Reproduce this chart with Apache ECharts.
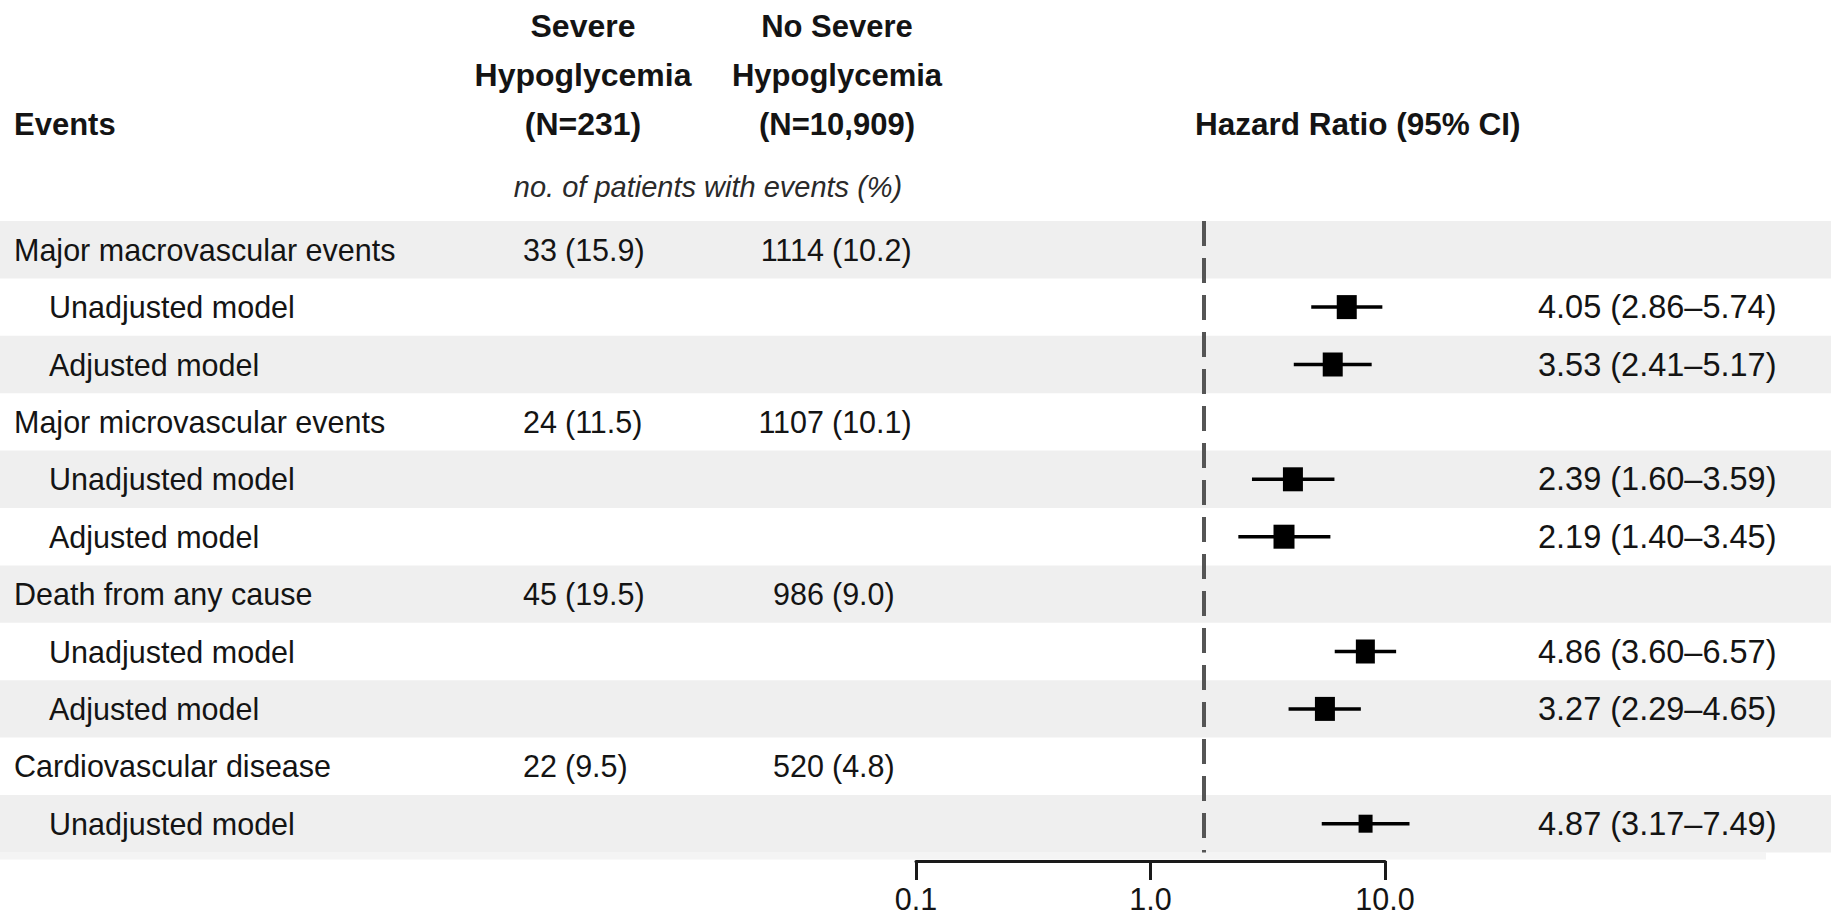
<!DOCTYPE html>
<html>
<head>
<meta charset="utf-8">
<script src="https://cdn.jsdelivr.net/npm/echarts@6/dist/echarts.min.js"></script>
<style>
html,body{margin:0;padding:0;background:#ffffff;}
#chart{width:1831px;height:916px;}
</style>
</head>
<body>
<div id="chart"></div>
<script>
// ---------------- DATA ----------------
const rowLabels = [
  'Major macrovascular events', 'Unadjusted model', 'Adjusted model',
  'Major microvascular events', 'Unadjusted model', 'Adjusted model',
  'Death from any cause', 'Unadjusted model', 'Adjusted model',
  'Cardiovascular disease', 'Unadjusted model'
];
const rowIsSubgroup = [false, true, true, false, true, true, false, true, true, false, true];
const severeCounts     = [33, null, null, 24, null, null, 45, null, null, 22, null];
const severePercents   = [15.9, null, null, 11.5, null, null, 19.5, null, null, 9.5, null];
const noSevereCounts   = [1114, null, null, 1107, null, null, 986, null, null, 520, null];
const noSeverePercents = [10.2, null, null, 10.1, null, null, 9.0, null, null, 4.8, null];
const hazardRatios = [null, 4.05, 3.53, null, 2.39, 2.19, null, 4.86, 3.27, null, 4.87];
const ciLower      = [null, 2.86, 2.41, null, 1.60, 1.40, null, 3.60, 2.29, null, 3.17];
const ciUpper      = [null, 5.74, 5.17, null, 3.59, 3.45, null, 6.57, 4.65, null, 7.49];
const axisTickValues = [0.1, 1, 10];
const referenceHR = 1;
const headerEvents = 'Events';
const headerSevere = ['Severe', 'Hypoglycemia', '(N=231)'];
const headerNoSevere = ['No Severe', 'Hypoglycemia', '(N=10,909)'];
const headerHR = 'Hazard Ratio (95% CI)';
const subHeader = 'no. of patients with events (%)';

// ---------------- STYLE / LAYOUT ----------------
const W = 1831;
const FONT = 'Liberation Sans';
const C = { text: '#141414', band: '#efefef', strip: '#f4f4f4', ref: '#555555', mark: '#000000' };
const L = {
  tableTop: 221, rowH: 57.4,
  labelX: 14, subLabelX: 49,
  col2Paren: 565, col3Paren: 832, gap: 8,
  hrTextX: 1538,
  col2Center: 583, col3Center: 837, hrHeaderX: 1195,
  headerLineY: [26, 75, 124], subHeaderY: 187, subHeaderX: 708,
  plotLeft: 969, plotWidth: 470,      // marker scale
  axisLeft: 916, axisWidth: 469        // printed axis
};
const markerSizes = [null, [20, 24], [20, 24], null, [20, 24], [21, 24], null, [19, 24], [20, 24], null, [14, 18]];
const bodyFont = { fontFamily: FONT, fontSize: 30.5, fill: C.text };

const nRows = rowLabels.length;
const tableHeight = L.rowH * nRows;
const tableBottom = 916 - (L.tableTop + tableHeight);

function txt(x, y, text, align, extra) {
  return { type: 'text', style: Object.assign({ x: x, y: y, text: text, align: align, verticalAlign: 'middle' }, bodyFont, extra || {}) };
}

function renderTableRow(params, api) {
  const i = params.dataIndex;
  const y = api.coord([0, i])[1];
  const h = api.size([0, 1])[1];
  const ch = [];
  if (i % 2 === 0) {
    ch.push({ type: 'rect', shape: { x: 0, y: y - h / 2, width: W, height: h }, style: { fill: C.band } });
  }
  ch.push(txt(rowIsSubgroup[i] ? L.subLabelX : L.labelX, y, rowLabels[i], 'left'));
  if (severeCounts[i] != null) {
    ch.push(txt(L.col2Paren - L.gap, y, String(severeCounts[i]), 'right'));
    ch.push(txt(L.col2Paren, y, '(' + severePercents[i].toFixed(1) + ')', 'left'));
  }
  if (noSevereCounts[i] != null) {
    ch.push(txt(L.col3Paren - L.gap, y, String(noSevereCounts[i]), 'right'));
    ch.push(txt(L.col3Paren, y, '(' + noSeverePercents[i].toFixed(1) + ')', 'left'));
  }
  if (hazardRatios[i] != null) {
    const s = hazardRatios[i].toFixed(2) + ' (' + ciLower[i].toFixed(2) + '\u2013' + ciUpper[i].toFixed(2) + ')';
    ch.push(txt(L.hrTextX, y, s, 'left', { fontSize: 32.5 }));
  }
  return { type: 'group', children: ch };
}

function renderWhisker(params, api) {
  const row = api.value(0);
  const pLo = api.coord([api.value(2), row]);
  const pHi = api.coord([api.value(3), row]);
  return { type: 'line', shape: { x1: pLo[0], y1: pLo[1], x2: pHi[0], y2: pHi[1] }, style: { stroke: C.mark, lineWidth: 3.5 } };
}

const forestRows = [];
const squareData = [];
for (let i = 0; i < nRows; i++) {
  if (hazardRatios[i] == null) continue;
  forestRows.push([i, hazardRatios[i], ciLower[i], ciUpper[i]]);
  squareData.push({ value: [hazardRatios[i], i], symbolSize: markerSizes[i] });
}

const headerGraphics = [];
function hdr(x, y, text, align, extra) {
  headerGraphics.push({ type: 'text', x: x, y: y, silent: true,
    style: Object.assign({ text: text, align: align, verticalAlign: 'middle', fontFamily: FONT, fontSize: 31, fontWeight: 'bold', fill: C.text }, extra || {}) });
}
hdr(L.labelX, L.headerLineY[2], headerEvents, 'left');
headerSevere.forEach((t, k) => hdr(L.col2Center, L.headerLineY[k], t, 'center', { fontSize: 32 }));
headerNoSevere.forEach((t, k) => hdr(L.col3Center, L.headerLineY[k], t, 'center', { fontSize: 31 }));
hdr(L.hrHeaderX, L.headerLineY[2], headerHR, 'left', { fontSize: 31.5 });
hdr(L.subHeaderX, L.subHeaderY, subHeader, 'center', { fontWeight: 'normal', fontStyle: 'italic', fontSize: 29, fill: '#2a2a2a' });
headerGraphics.push({ type: 'rect', silent: true, z: -1,
  shape: { x: 0, y: L.tableTop + tableHeight, width: 1766, height: 7 }, style: { fill: C.strip } });

const catAxis = (gi) => ({ type: 'category', gridIndex: gi, data: rowLabels, inverse: true, show: false, boundaryGap: true });

const option = {
  animation: false,
  backgroundColor: '#ffffff',
  graphic: headerGraphics,
  grid: [
    { left: 0, right: 0, top: L.tableTop, bottom: tableBottom, containLabel: false },
    { left: L.plotLeft, width: L.plotWidth, top: L.tableTop, bottom: tableBottom, containLabel: false },
    { left: L.axisLeft, width: L.axisWidth, top: L.tableTop, bottom: 55, containLabel: false }
  ],
  xAxis: [
    { type: 'value', gridIndex: 0, min: 0, max: 1, show: false },
    { type: 'log', gridIndex: 1, logBase: 10, min: 0.1, max: 10, show: false },
    { type: 'log', gridIndex: 2, logBase: 10, min: 0.1, max: 10, position: 'bottom',
      axisLine: { show: true, lineStyle: { color: '#1a1a1a', width: 3 } },
      axisTick: { show: true, length: 19, lineStyle: { color: '#1a1a1a', width: 3 }, customValues: axisTickValues },
      axisLabel: { show: true, margin: 22, fontFamily: FONT, fontSize: 30.5, color: C.text,
        customValues: axisTickValues, formatter: (v) => Number(v).toFixed(1) },
      splitLine: { show: false }, minorTick: { show: false } }
  ],
  yAxis: [ catAxis(0), catAxis(1), { type: 'value', gridIndex: 2, show: false, min: 0, max: 1 } ],
  series: [
    { type: 'custom', xAxisIndex: 0, yAxisIndex: 0, z: 0, silent: true,
      data: rowLabels.map((_, i) => [0, i]), encode: { x: 0, y: 1 }, renderItem: renderTableRow },
    { type: 'custom', xAxisIndex: 1, yAxisIndex: 1, z: 3, silent: true, clip: false,
      data: forestRows, encode: { x: [1, 2, 3], y: 0 }, renderItem: renderWhisker },
    { type: 'scatter', xAxisIndex: 1, yAxisIndex: 1, z: 4, silent: true, symbol: 'rect',
      itemStyle: { color: C.mark, opacity: 1 }, data: squareData,
      markLine: { silent: true, symbol: 'none', label: { show: false },
        lineStyle: { type: [25, 12], color: C.ref, width: 4 },
        data: [{ xAxis: referenceHR }] } },
    { type: 'scatter', xAxisIndex: 2, yAxisIndex: 2, data: [] }
  ]
};

const chart = echarts.init(document.getElementById('chart'), null, { renderer: 'svg', width: 1831, height: 916 });
chart.setOption(option);
</script>
</body>
</html>
